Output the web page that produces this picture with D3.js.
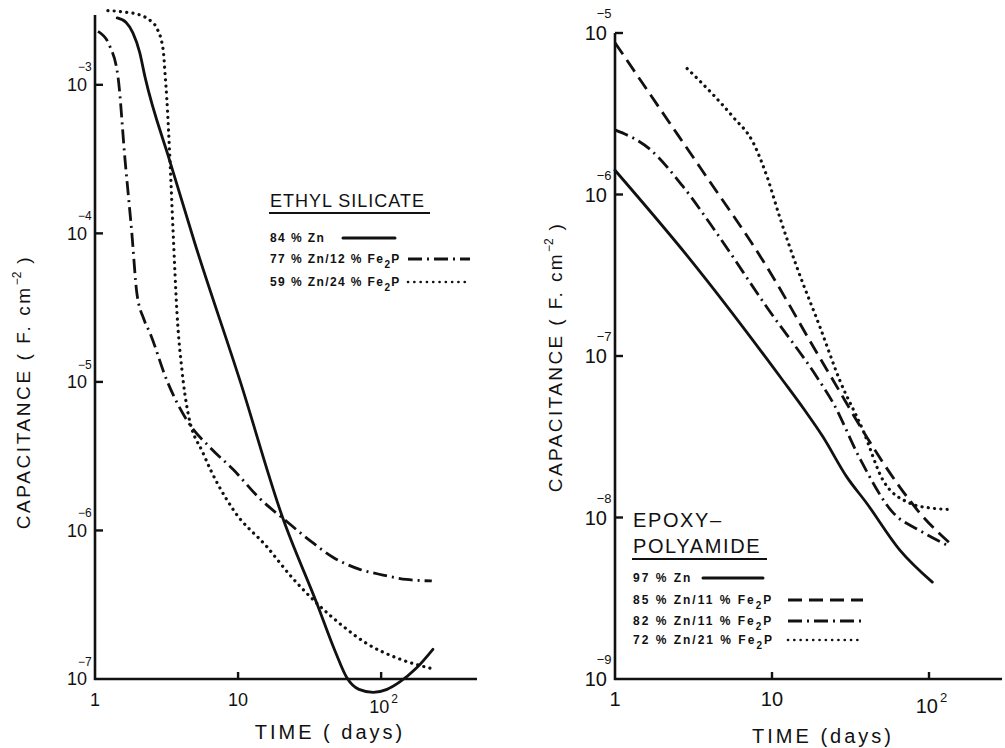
<!DOCTYPE html>
<html>
<head>
<meta charset="utf-8">
<script src="https://cdn.jsdelivr.net/npm/d3@7"></script>
<style>
  html, body { margin: 0; padding: 0; background: #fff; }
  svg { display: block; }
  text { font-family: "Liberation Sans", Arial, sans-serif; fill: #111; }
</style>
</head>
<body>
<svg id="chart" width="1005" height="748"></svg>
<script>
// ---- Ethyl silicate coatings (left panel): [time in days, log10 capacitance in F/cm^2] ----
const esZn84 = [
  [1.43, -2.55], [1.65, -2.58], [1.84, -2.65], [2.05, -2.78], [2.24, -2.95],
  [3.35, -3.52], [5.0, -4.07], [10.3, -4.99], [20.6, -5.92], [35.5, -6.49],
  [48, -6.82], [57.5, -6.99], [70, -7.07], [88, -7.09], [110, -7.07],
  [135, -7.02], [175, -6.93], [230, -6.80]
];
const esZn77Fe12 = [
  [1.05, -2.64], [1.27, -2.74], [1.45, -2.95], [1.62, -3.50], [1.81, -4.00],
  [1.96, -4.40], [2.2, -4.58], [2.42, -4.67], [3.18, -4.99], [4.4, -5.26],
  [6.5, -5.45], [9.25, -5.59], [14, -5.78], [21.9, -5.94], [32, -6.07],
  [46, -6.18], [70, -6.26], [103, -6.30], [150, -6.33], [226, -6.34]
];
const esZn59Fe24 = [
  [1.23, -2.50], [1.6, -2.51], [2.06, -2.53], [2.45, -2.57], [2.71, -2.62],
  [2.99, -2.76], [3.1, -2.95], [3.18, -3.10], [3.34, -3.50], [3.52, -4.00],
  [3.75, -4.55], [4.05, -4.92], [4.47, -5.21], [5.7, -5.48], [9.25, -5.86],
  [15.9, -6.11], [24, -6.32], [35.5, -6.49], [55, -6.65], [79, -6.76],
  [130, -6.86], [226, -6.93]
];

// ---- Epoxy-polyamide coatings (right panel) ----
const epZn97 = [
  [1, -5.85], [3, -6.40], [11.7, -7.15], [16, -7.33], [21.1, -7.50],
  [30, -7.75], [40, -7.91], [65, -8.20], [105, -8.40]
];
const epZn85Fe11 = [
  [1, -5.06], [2, -5.49], [3.47, -5.83], [9.3, -6.45], [19.3, -6.98],
  [24.5, -7.15], [40, -7.50], [65, -7.81], [87, -7.97], [140, -8.17]
];
const epZn82Fe11 = [
  [1, -5.60], [1.67, -5.72], [2.71, -5.95], [4.45, -6.24], [9.3, -6.70],
  [19.3, -7.13], [24.5, -7.29], [36.5, -7.64], [59, -7.97], [87, -8.08],
  [136, -8.18]
];
const epZn72Fe21 = [
  [2.88, -5.22], [4.2, -5.38], [5.65, -5.52], [7.6, -5.68], [9.3, -5.89],
  [11.2, -6.14], [14.4, -6.45], [20.2, -6.82], [27, -7.15], [38, -7.46],
  [51, -7.77], [75, -7.91], [100, -7.94], [136, -7.95]
];

// tick exponents and labels
const esYExp = [-3, -4, -5, -6, -7];
const epYExp = [-5, -6, -7, -8, -9];
const xTickValues = [1, 10, 100];
const xTickLabels = [["1", null], ["10", null], ["10", "2"]];

// line styles
const styles = {
  solid:   { dash: null,       cap: "round" },
  dashed:  { dash: "14 7",     cap: "butt" },
  dashdot: { dash: "14 5 2 5", cap: "butt" },
  dotted:  { dash: "0.1 6.2",  cap: "round" }
};

const svg = d3.select("#chart");

function drawPanel(cfg) {
  const g = svg.append("g");
  const x = d3.scaleLog().domain(cfg.xDomain).range(cfg.xRange);
  const y = d3.scaleLog().domain(cfg.yDomain).range(cfg.yRange);
  const x0 = cfg.xRange[0], yB = cfg.yRange[0];
  const digitW = cfg.tickFont * 0.556;

  // axes: vertical and horizontal lines
  g.append("line").attr("x1", x0).attr("x2", x0).attr("y1", cfg.yRange[1]).attr("y2", yB + 1)
    .attr("stroke", "#111").attr("stroke-width", 2.6);
  g.append("line").attr("x1", x0 - 1).attr("x2", cfg.xRange[1]).attr("y1", yB).attr("y2", yB)
    .attr("stroke", "#111").attr("stroke-width", 2.6);

  // y ticks (inward) and 10^n labels, exponent raised above the "0"
  cfg.yExp.forEach((e, i) => {
    const py = y(Math.pow(10, e));
    if (i < cfg.yExp.length - 1) {
      g.append("line").attr("x1", x0).attr("x2", x0 + 8).attr("y1", py).attr("y2", py)
        .attr("stroke", "#111").attr("stroke-width", 2.4);
    }
    const base = py + cfg.tickFont * 0.36;
    g.append("text").attr("x", x0 - 8).attr("y", base).attr("text-anchor", "end")
      .attr("font-size", cfg.tickFont).text("10");
    g.append("text").attr("x", x0 - 8 - 2 * digitW + cfg.supShift)
      .attr("y", base - cfg.tickFont * 0.9 - cfg.supFont * 0.22 - 1)
      .attr("font-size", cfg.supFont).text("\u2212" + Math.abs(e));
  });

  // x ticks at 10 and 100 (upward) and labels
  xTickValues.forEach((v, i) => {
    const px = x(v);
    if (v > 1) {
      g.append("line").attr("x1", px).attr("x2", px).attr("y1", yB).attr("y2", yB - 7)
        .attr("stroke", "#111").attr("stroke-width", 2.4);
    }
    const [base, sup] = xTickLabels[i];
    const by = sup ? yB + 34 : yB + 27;
    const t = g.append("text").attr("y", by).attr("font-size", cfg.tickFont);
    if (sup) {
      t.attr("x", px - digitW * 1.2);
      t.append("tspan").text(base);
      t.append("tspan").attr("dx", 2).attr("dy", -cfg.tickFont * 0.55)
        .attr("font-size", cfg.supFont).text(sup);
    } else {
      t.attr("x", px).attr("text-anchor", "middle").text(base);
    }
  });

  // axis titles
  g.append("text").attr("x", cfg.xTitle[0]).attr("y", cfg.xTitle[1]).attr("text-anchor", "middle")
    .attr("font-size", 20).attr("letter-spacing", 3).text(cfg.xTitleText);
  const yt = g.append("text")
    .attr("transform", `translate(${cfg.yTitle[0]},${cfg.yTitle[1]}) rotate(-90)`)
    .attr("text-anchor", "middle").attr("font-size", 19).attr("letter-spacing", cfg.yTitleSpacing);
  yt.append("tspan").text("CAPACITANCE ( F. cm");
  yt.append("tspan").attr("dy", -9).attr("font-size", 12).attr("letter-spacing", 0).text("\u22122");
  yt.append("tspan").attr("dy", 9).text(" )");

  // curves
  const line = d3.line()
    .x(d => x(d[0]))
    .y(d => y(Math.pow(10, d[1])))
    .curve(d3.curveMonotoneX);
  cfg.series.forEach(s => {
    const st = styles[s.style];
    g.append("path").datum(s.data).attr("d", line)
      .attr("fill", "none").attr("stroke", "#111")
      .attr("stroke-width", s.style === "dotted" ? 3.2 : 2.8)
      .attr("stroke-dasharray", st.dash).attr("stroke-linecap", st.cap)
      .attr("stroke-linejoin", "round");
  });

  // legend
  const L = cfg.legend;
  L.title.forEach((t, i) => {
    g.append("text").attr("x", L.x).attr("y", L.titleY[i]).attr("font-size", L.titleFont)
      .attr("letter-spacing", L.titleSpacing).text(t);
  });
  g.append("line").attr("x1", L.x - 1).attr("x2", L.underlineX2)
    .attr("y1", L.underlineY).attr("y2", L.underlineY).attr("stroke", "#111").attr("stroke-width", 2);
  cfg.series.forEach((s, i) => {
    const cy = L.rows[i];
    const tx = g.append("text").attr("x", L.x).attr("y", cy + 4).attr("font-size", 12)
      .attr("font-weight", "bold").attr("letter-spacing", L.entrySpacing);
    s.label.forEach(part => {
      if (part.sub) tx.append("tspan").attr("dy", 5).attr("font-size", 10).text(part.t);
      else if (part.after) tx.append("tspan").attr("dy", -5).text(part.t);
      else tx.append("tspan").text(part.t);
    });
    const st = styles[s.style];
    g.append("line").attr("x1", L.sample[i][0]).attr("x2", L.sample[i][1])
      .attr("y1", cy).attr("y2", cy).attr("stroke", "#111")
      .attr("stroke-width", s.style === "dotted" ? 2.6 : 3)
      .attr("stroke-dasharray", st.dash).attr("stroke-linecap", st.cap);
  });
}

const fe2p = (a, b) => [{ t: `${a} % Zn/${b} % Fe` }, { t: "2", sub: true }, { t: "P", after: true }];

drawPanel({
  xDomain: [1, Math.pow(10, 2.67)], xRange: [95, 477],
  yDomain: [1e-7, Math.pow(10, -2.53)], yRange: [679, 15],
  yExp: esYExp, tickFont: 18, supFont: 12, supShift: 11,
  xTitle: [330, 739], xTitleText: "TIME ( days)",
  yTitle: [30, 392], yTitleSpacing: 2.6,
  series: [
    { data: esZn84, style: "solid", label: [{ t: "84 % Zn" }] },
    { data: esZn77Fe12, style: "dashdot", label: fe2p(77, 12) },
    { data: esZn59Fe24, style: "dotted", label: fe2p(59, 24) }
  ],
  legend: {
    x: 270, title: ["ETHYL SILICATE"], titleY: [207], titleFont: 18, titleSpacing: 1,
    underlineY: 213, underlineX2: 430, entrySpacing: 1.4,
    rows: [238, 259, 282],
    sample: [[343, 395], [408, 470], [408, 470]]
  }
});

drawPanel({
  xDomain: [1, Math.pow(10, 2.465)], xRange: [615, 1002],
  yDomain: [1e-9, 1e-5], yRange: [679, 33],
  yExp: epYExp, tickFont: 20, supFont: 13, supShift: 12,
  xTitle: [823, 743], xTitleText: "TIME (days)",
  yTitle: [562, 357], yTitleSpacing: 2.4,
  series: [
    { data: epZn97, style: "solid", label: [{ t: "97 % Zn" }] },
    { data: epZn85Fe11, style: "dashed", label: fe2p(85, 11) },
    { data: epZn82Fe11, style: "dashdot", label: fe2p(82, 11) },
    { data: epZn72Fe21, style: "dotted", label: fe2p(72, 21) }
  ],
  legend: {
    x: 633, title: ["EPOXY\u2013", "POLYAMIDE"], titleY: [527, 553], titleFont: 20, titleSpacing: 1.6,
    underlineY: 559, underlineX2: 767, entrySpacing: 2.0,
    rows: [578, 600, 621, 640],
    sample: [[703, 763], [788, 863], [788, 863], [788, 863]]
  }
});
</script>
</body>
</html>
